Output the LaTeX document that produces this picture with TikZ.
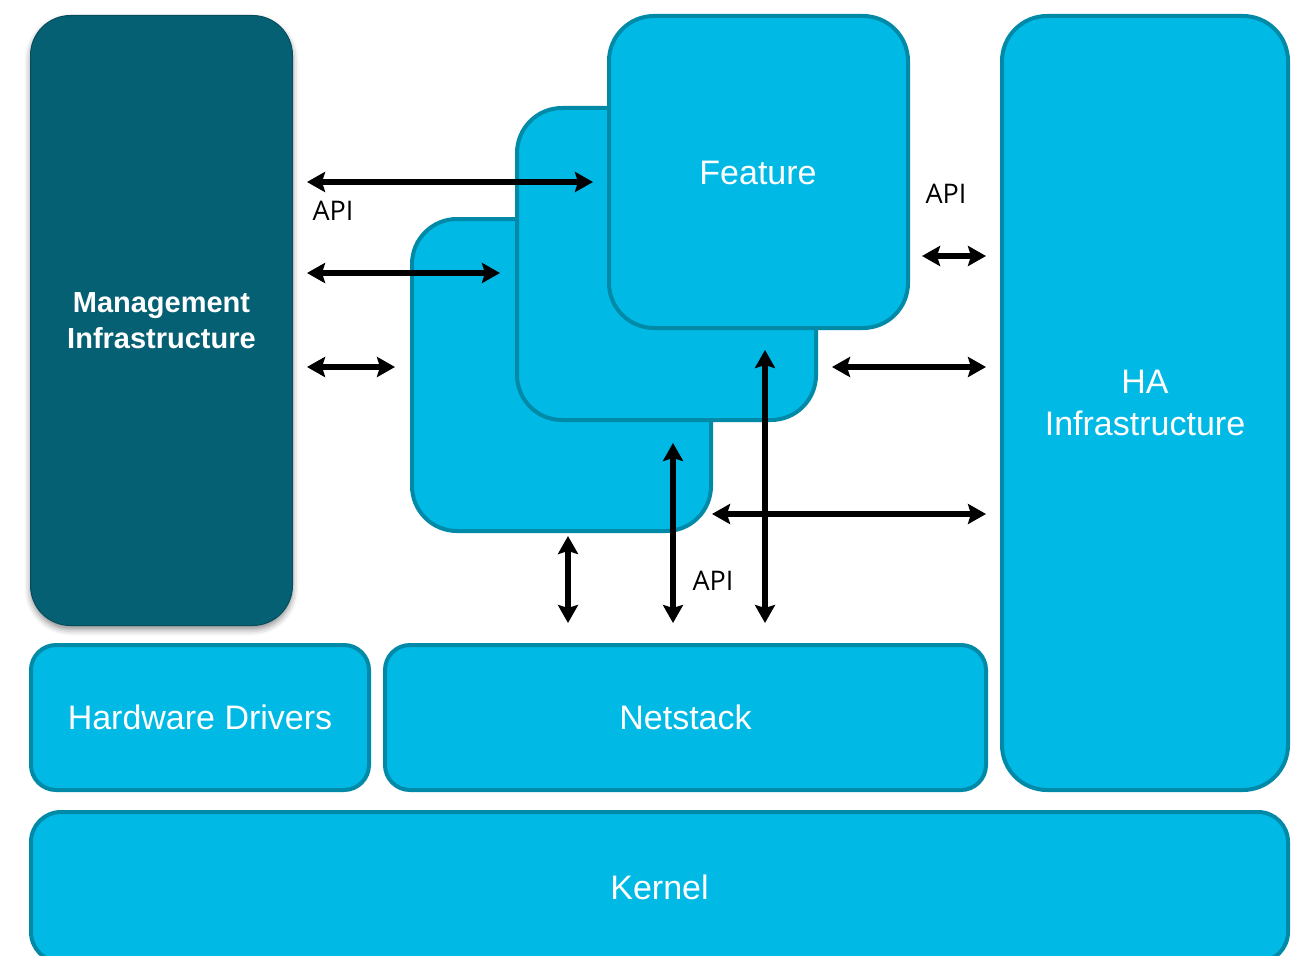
\documentclass[tikz,border=0pt]{standalone}
\usepackage{fontspec}
\setmainfont{Liberation Sans}
\newfontfamily\apifont{Open Sans}
\usetikzlibrary{arrows.meta,shadows.blur}
\definecolor{cyanfill}{RGB}{0,185,228}
\definecolor{cyanline}{RGB}{0,138,168}
\definecolor{mgmtfill}{RGB}{6,96,115}
\begin{document}
\begin{tikzpicture}[x=1pt,y=-1pt,
  box/.style={draw=cyanline, fill=cyanfill, line width=4pt, anchor=north west, outer sep=0pt,
    inner sep=0pt, text=white, font=\fontsize{34}{42}\selectfont, align=center},
  mgmtbox/.style={fill=mgmtfill, draw=mgmtfill!80!black, line width=1pt, anchor=north west,
    inner sep=0pt, text=white, font=\bfseries\fontsize{29}{36}\selectfont, align=center,
    rounded corners=40pt,
    blur shadow={shadow xshift=0pt, shadow yshift=-4pt, shadow blur radius=6pt, shadow opacity=45}},
  biarrow/.style={line width=5.5pt, {Stealth[length=18pt,width=20pt,inset=3pt]}-{Stealth[length=18pt,width=20pt,inset=3pt]}},
  apilabel/.style={font=\apifont\fontsize{27}{30}\selectfont, text=black, inner sep=0pt}
]
\useasboundingbox (0,0) rectangle (1305,955);
\clip (0,0) rectangle (1305,955);

% Boxes
\node[mgmtbox, minimum width=262pt, minimum height=610pt] (mgmt) at (30,15) {Management\\Infrastructure};
\node[box, rounded corners=45pt, minimum width=286pt, minimum height=774pt] (ha) at (1002,16) {HA\\Infrastructure};
\node[box, rounded corners=25pt, minimum width=338pt, minimum height=145pt] (hw) at (31,645) {Hardware Drivers};
\node[box, rounded corners=25pt, minimum width=601pt, minimum height=145pt] (net) at (385,645) {Netstack};
\node[box, rounded corners=30pt, minimum width=1257pt, minimum height=150pt] (kernel) at (31,812) {Kernel};
\node[box, rounded corners=45pt, minimum width=299pt, minimum height=312pt] (f3) at (412,219) {};
\node[box, rounded corners=45pt, minimum width=299pt, minimum height=312pt] (f2) at (517,108) {};
\node[box, rounded corners=45pt, minimum width=299pt, minimum height=312pt] (feat) at (609,16) {};
\node[text=white, font=\fontsize{34}{42}\selectfont, inner sep=0pt] (feattext) at (758,173) {Feature};

% Arrow end coordinates
\coordinate (a1s) at (307,182); \coordinate (a1e) at (593,182);
\coordinate (a2s) at (307,273); \coordinate (a2e) at (500,273);
\coordinate (a3s) at (307,367); \coordinate (a3e) at (395,367);
\coordinate (a4s) at (922,256); \coordinate (a4e) at (986,256);
\coordinate (a5s) at (832,367); \coordinate (a5e) at (986,367);
\coordinate (a6s) at (712,514); \coordinate (a6e) at (986,514);
\coordinate (a7s) at (568,536); \coordinate (a7e) at (568,623);
\coordinate (a8s) at (673,443); \coordinate (a8e) at (673,623);
\coordinate (a9s) at (765,350); \coordinate (a9e) at (765,623);

\draw[biarrow] (a1s) -- (a1e);
\draw[biarrow] (a2s) -- (a2e);
\draw[biarrow] (a3s) -- (a3e);
\draw[biarrow] (a4s) -- (a4e);
\draw[biarrow] (a5s) -- (a5e);
\draw[biarrow] (a6s) -- (a6e);
\draw[biarrow] (a7s) -- (a7e);
\draw[biarrow] (a8s) -- (a8e);
\draw[biarrow] (a9s) -- (a9e);

% API labels
\node[apilabel] (api1) at (333,211) {API};
\node[apilabel] (api2) at (946,194) {API};
\node[apilabel] (api3) at (713,581) {API};
\end{tikzpicture}
\end{document}
